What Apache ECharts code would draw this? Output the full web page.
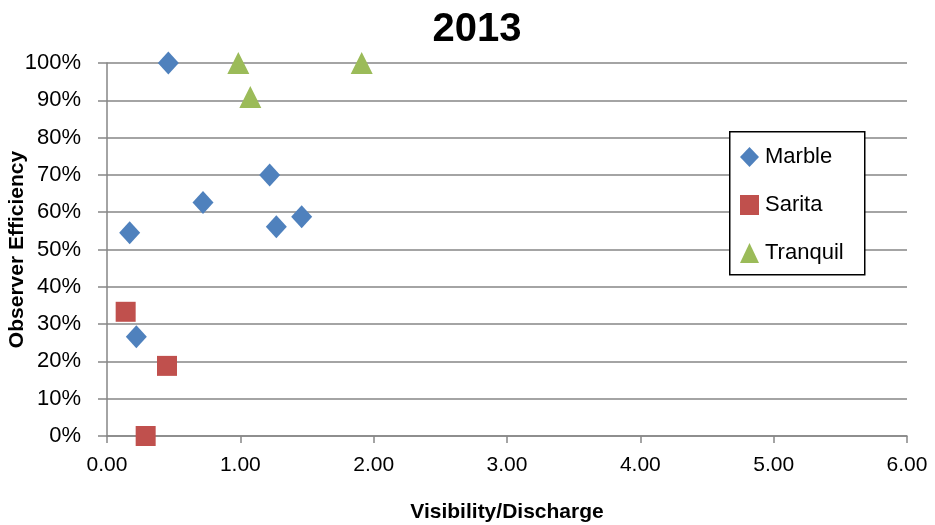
<!DOCTYPE html>
<html><head><meta charset="utf-8">
<script src="https://cdn.jsdelivr.net/npm/echarts@6/dist/echarts.min.js"></script>
<style>html,body{margin:0;padding:0;background:#fff}#c{width:935px;height:525px}</style>
</head><body><div id="c"></div>
<script>
const seriesNames = ['Marble', 'Sarita', 'Tranquil'];
const marbleX = [0.46, 0.17, 0.22, 0.72, 1.22, 1.27, 1.46];
const marbleY = [1.00, 0.545, 0.266, 0.626, 0.70, 0.561, 0.588];
const saritaX = [0.14, 0.45, 0.29];
const saritaY = [0.333, 0.188, 0.00];
const tranquilX = [0.985, 1.075, 1.91];
const tranquilY = [1.00, 0.909, 1.00];
const xTicks = [0, 1, 2, 3, 4, 5, 6];
const yTicks = [0, 0.1, 0.2, 0.3, 0.4, 0.5, 0.6, 0.7, 0.8, 0.9, 1.0];

const font = "'Liberation Sans', Arial, sans-serif";
const pair = (xs, ys) => xs.map((x, i) => [x, ys[i]]);
const chart = echarts.init(document.getElementById('c'), null, {renderer: 'canvas'});
chart.setOption({
  animation: false,
  backgroundColor: '#fff',
  title: {text: '2013', left: 472, top: 5, textAlign: 'center',
    textStyle: {fontFamily: font, fontSize: 40, fontWeight: 'bold', color: '#000'}},
  grid: {left: 107, right: 28, top: 63, bottom: 89, containLabel: false, outerBoundsMode: 'none'},
  graphic: [{type: 'rect', left: 729, top: 131, z: 10,
    shape: {width: 135, height: 143},
    style: {fill: '#fff', stroke: '#000', lineWidth: 1.5}}],
  legend: {
    orient: 'vertical', left: 729, top: 131, z: 20,
    data: seriesNames,
    padding: [15, 8, 10, 11],
    itemGap: 26, itemWidth: 19, itemHeight: 20,
    textStyle: {fontFamily: font, fontSize: 22, color: '#000', padding: [0, 0, 0, 1]}
  },
  xAxis: {
    type: 'value', min: 0, max: 6, interval: 1,
    name: 'Visibility/Discharge', nameLocation: 'middle', nameGap: 66, nameMoveOverlap: false,
    nameTextStyle: {fontFamily: font, fontSize: 21, fontWeight: 'bold', color: '#000'},
    axisLine: {show: true, lineStyle: {color: '#868686', width: 1.5}},
    axisTick: {show: true, length: 7, lineStyle: {color: '#868686', width: 1.5}},
    axisLabel: {fontFamily: font, fontSize: 21, color: '#000', margin: 19,
      formatter: v => v.toFixed(2)},
    splitLine: {show: false}
  },
  yAxis: {
    type: 'value', min: 0, max: 1, interval: 0.1,
    name: 'Observer Efficiency', nameLocation: 'middle', nameGap: 79, nameRotate: 90,
    nameMoveOverlap: false,
    nameTextStyle: {fontFamily: font, fontSize: 21, fontWeight: 'bold', color: '#000'},
    axisLine: {show: true, lineStyle: {color: '#868686', width: 1.5}},
    axisTick: {show: true, length: 9, lineStyle: {color: '#868686', width: 1.5}},
    axisLabel: {fontFamily: font, fontSize: 22, color: '#000', margin: 26,
      formatter: v => Math.round(v * 100) + '%'},
    splitLine: {show: true, lineStyle: {color: '#868686', width: 1.5}}
  },
  series: [
    {name: 'Marble', type: 'scatter', clip: false, symbol: 'diamond', symbolSize: [21, 23],
      itemStyle: {color: '#4F81BD', opacity: 1}, data: pair(marbleX, marbleY)},
    {name: 'Sarita', type: 'scatter', clip: false, symbol: 'rect', symbolSize: 20,
      itemStyle: {color: '#C0504D', opacity: 1}, data: pair(saritaX, saritaY)},
    {name: 'Tranquil', type: 'scatter', clip: false, symbol: 'triangle', symbolSize: 22,
      itemStyle: {color: '#9BBB59', opacity: 1}, data: pair(tranquilX, tranquilY)}
  ]
});
</script></body></html>
